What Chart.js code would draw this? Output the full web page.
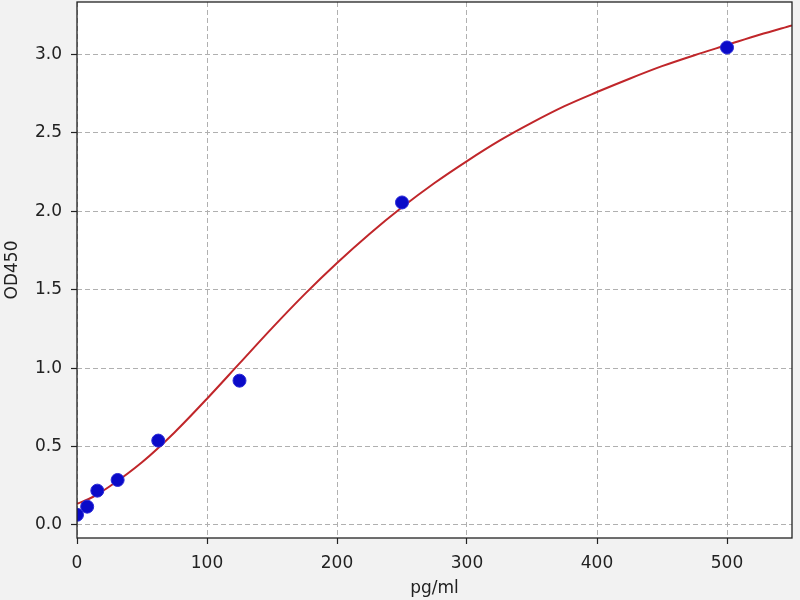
<!DOCTYPE html>
<html>
<head>
  <meta charset="UTF-8">
  <title>OD450 standard curve</title>
  <style>
    body { margin: 0; background: #f2f2f2; }
    .chartBox { width: 800px; height: 600px; }
  </style>
</head>
<body>
  <div class="chartBox">
    <canvas id="myChart"></canvas>
  </div>
  <script src="https://cdn.jsdelivr.net/npm/chart.js"></script>
  <script>
// ---------------- data ----------------
const stdConc = [0, 7.8125, 15.625, 31.25, 62.5, 125, 250, 500];
const stdOD = [0.065, 0.117, 0.219, 0.287, 0.538, 0.92, 2.056, 3.044];

// fitted curve, sampled from the drawn red line
const fitConc = [0, 12.5, 25, 50, 75, 100, 125, 150, 175, 200, 225, 250, 275, 300, 325, 350, 375, 400, 425, 450, 475, 500, 525, 550];
const fitOD = [0.135, 0.18, 0.245, 0.40, 0.59, 0.805, 1.03, 1.255, 1.47, 1.67, 1.855, 2.025, 2.18, 2.32, 2.45, 2.565, 2.67, 2.76, 2.845, 2.925, 2.995, 3.06, 3.125, 3.185];

const xTicks = [0, 100, 200, 300, 400, 500];
const yTicks = [0, 0.5, 1.0, 1.5, 2.0, 2.5, 3.0];

const FONT = { family: 'DejaVu Sans', size: 17 };

// page bg + white plot area + frame
const frame = {
  id: 'frame',
  beforeDraw(chart) {
    const { ctx, chartArea: a } = chart;
    ctx.save();
    ctx.fillStyle = '#f2f2f2';
    ctx.fillRect(0, 0, chart.width, chart.height);
    ctx.fillStyle = '#ffffff';
    ctx.fillRect(a.left, a.top, a.right - a.left, a.bottom - a.top);
    ctx.restore();
  },
  afterDraw(chart) {
    const { ctx, chartArea: a } = chart;
    ctx.save();
    ctx.strokeStyle = '#222';
    ctx.lineWidth = 1.3;
    ctx.strokeRect(a.left, a.top, a.right - a.left, a.bottom - a.top);
    ctx.restore();
  }
};

const gridOpts = {
  color: '#b0b0b0',
  lineWidth: 1,
  drawTicks: true,
  tickLength: 6,
  tickColor: '#222',
  tickBorderDash: [],
  tickWidth: 1.2
};

const myChart = new Chart(document.getElementById('myChart'), {
  type: 'scatter',
  data: {
    datasets: [
      {
        label: 'fit',
        data: fitConc.map((x, i) => ({ x: x, y: fitOD[i] })),
        showLine: true,
        borderColor: '#c0262a',
        borderWidth: 2,
        pointRadius: 0,
        cubicInterpolationMode: 'monotone',
        order: 2
      },
      {
        label: 'standards',
        data: stdConc.map((x, i) => ({ x: x, y: stdOD[i] })),
        backgroundColor: '#0a0ac8',
        borderColor: '#2a2ad8',
        borderWidth: 1,
        pointRadius: 6.5,
        order: 1
      }
    ]
  },
  options: {
    responsive: true,
    maintainAspectRatio: false,
    animation: false,
    layout: { autoPadding: false, padding: { top: 2, right: 8, left: 0, bottom: 0 } },
    plugins: {
      legend: { display: false },
      tooltip: { enabled: false }
    },
    scales: {
      x: {
        type: 'linear',
        min: 0,
        max: 550,
        afterBuildTicks: s => { s.ticks = xTicks.map(v => ({ value: v })); },
        afterFit: s => { s.height = 62; s.paddingLeft = 0; s.paddingRight = 0; },
        grid: gridOpts,
        border: { display: false, dash: [5, 3] },
        ticks: { font: FONT, color: '#222', padding: 9 },
        title: { display: true, text: 'pg/ml', font: FONT, color: '#222', padding: { top: 0, bottom: 1 } }
      },
      y: {
        type: 'linear',
        min: -0.083,
        max: 3.334,
        afterBuildTicks: s => { s.ticks = yTicks.map(v => ({ value: v })); },
        afterFit: s => { s.width = 77; s.paddingTop = 0; s.paddingBottom = 0; },
        grid: gridOpts,
        border: { display: false, dash: [5, 3] },
        ticks: { font: FONT, color: '#222', padding: 9, callback: v => v.toFixed(1) },
        title: { display: true, text: 'OD450', font: FONT, color: '#222', padding: { top: 2, bottom: 0 } }
      }
    }
  },
  plugins: [frame]
});
  </script>
</body>
</html>
